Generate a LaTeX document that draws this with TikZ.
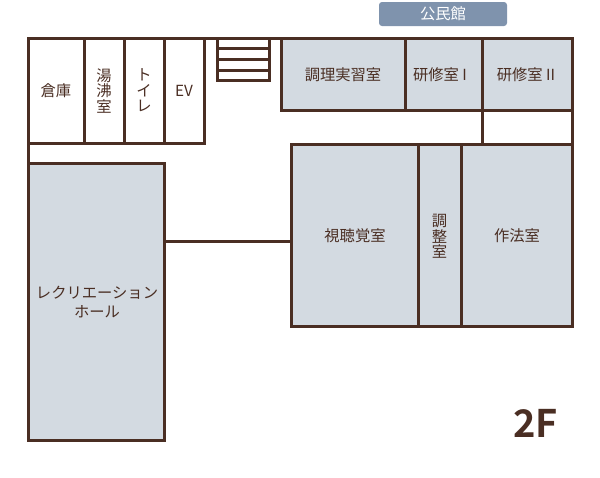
\documentclass[tikz,border=0pt]{standalone}
\usepackage{fontspec}
\newfontfamily\jp{Noto Sans CJK JP}[BoldFont={Noto Sans CJK JP Bold}]
\definecolor{wall}{HTML}{4A2E23}
\definecolor{roomfill}{HTML}{D3DAE1}
\definecolor{badge}{HTML}{7F93AD}
\tikzset{
  wallline/.style={draw=wall,line width=3pt,line join=miter},
  graywall/.style={wallline,fill=roomfill},
  lbl/.style={font=\jp\fontsize{15.3}{15.4}\selectfont,text=wall,align=center,inner sep=0pt},
}
\begin{document}
\begin{tikzpicture}[x=1pt,y=-1pt]
\useasboundingbox (0,0) rectangle (600,477);
% rooms with fill
\draw[graywall] (28,163.5) rectangle (164,440);
\draw[graywall] (281.5,38.5) rectangle (405,110);
\draw[graywall] (405,38.5) rectangle (482,110);
\draw[graywall] (482,38.5) rectangle (572.5,110);
\draw[graywall] (291,144) rectangle (418,326);
\draw[graywall] (418,144) rectangle (461.5,326);
\draw[graywall] (461.5,144) rectangle (572.5,326);
% white rooms
\draw[wallline] (28,38.5) rectangle (84.5,143);
\draw[wallline] (84.5,38.5) rectangle (124.5,143);
\draw[wallline] (124.5,38.5) rectangle (164.5,143);
\draw[wallline] (164.5,38.5) rectangle (204,143);
\draw[wallline] (482,110) rectangle (572.5,144);
% outer wall pieces
\draw[wallline] (28,38.5) -- (572.5,38.5);
\draw[wallline] (28,143) -- (28,163.5);
% stairs
\draw[wallline] (217,38.5) rectangle (269,80);
\draw[wallline] (217,48.5) -- (269,48.5);
\draw[wallline] (217,59) -- (269,59);
\draw[wallline] (217,70) -- (269,70);
% corridor link
\coordinate (la) at (164,241.5);
\coordinate (lb) at (291,241.5);
\draw[wallline] (la) -- (lb);
% badge
\node[fill=badge,rounded corners=3pt,minimum width=128pt,minimum height=24pt,inner sep=0pt,
  font=\jp\fontsize{15.3}{16}\selectfont,text=white] (kominkan) at (443,14) {公民館};
% labels
\node[lbl] (soko) at (56,90.5) {倉庫};
\node[lbl] (yuwakashi) at (104,91) {湯\\沸\\室};
\node[lbl] (toire) at (144,90.5) {ト\\イ\\レ};
\node[lbl] (ev) at (184,90.5) {EV};
\node[lbl] (chori) at (343,74.5) {調理実習室};
\node[lbl] (ken1) at (440,74.5) {研修室 I};
\node[lbl] (ken2) at (526,74.5) {研修室 II};
\node[lbl] (shicho) at (355,235.7) {視聴覚室};
\node[lbl] (chosei) at (439.5,236.5) {調\\整\\室};
\node[lbl] (saho) at (517,235.7) {作法室};
\node[lbl,text width=130pt,font=\jp\fontsize{15.3}{19}\selectfont] (rec) at (97,302) {レクリエーション\\ホール};
\node[text=wall,inner sep=0pt,font=\jp\bfseries\fontsize{38}{40}\selectfont] (floor) at (535.5,423) {2F};
\end{tikzpicture}
\end{document}
